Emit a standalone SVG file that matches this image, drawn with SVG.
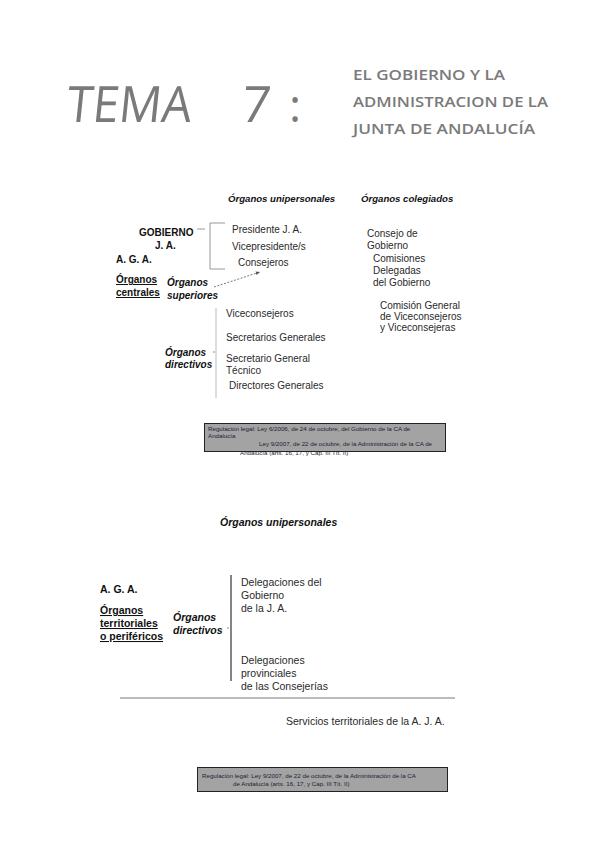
<svg xmlns="http://www.w3.org/2000/svg" width="599" height="848" viewBox="0 0 599 848">
<defs>
<style>
.t{font-family:"Liberation Sans",Arial,sans-serif;font-size:10px;fill:#2a2a2a}
.b{font-weight:bold;fill:#111}
.bi{font-weight:bold;font-style:italic;fill:#111}
.h{font-size:9.6px}
.u{text-decoration:underline}
.lg{font-size:10.5px}
.ttl{font-family:"Open Sans","DejaVu Sans",sans-serif;font-weight:400;fill:#7a7a7a}
.sub{font-family:"Open Sans","DejaVu Sans",sans-serif;font-size:14.5px;font-weight:600;fill:#7a7a7a}
.note{font-family:"Liberation Sans",Arial,sans-serif;font-size:6.2px;fill:#223}
.box{fill:#a3a3a3;stroke:#222;stroke-width:1}
.ln{stroke:#999;stroke-width:1;fill:none}
</style>
<marker id="ah" viewBox="0 0 8 8" refX="7" refY="4" markerWidth="6" markerHeight="6" orient="auto">
<path d="M0,1 L7,4 L0,7 z" fill="#555"/>
</marker>
</defs>

<g id="title">
<text class="ttl" x="65" y="122" font-size="50" textLength="125" lengthAdjust="spacingAndGlyphs" transform="skewX(-6) translate(13,0)">TEMA</text>
<text class="ttl" x="240" y="122" font-size="50" transform="skewX(-6) translate(13,0)">7</text>
<text class="ttl" x="289" y="122" font-size="46" font-weight="600">:</text>
<text class="sub" x="353" y="80" textLength="152" lengthAdjust="spacingAndGlyphs">EL GOBIERNO Y LA</text>
<text class="sub" x="353" y="107" textLength="195" lengthAdjust="spacingAndGlyphs">ADMINISTRACION DE LA</text>
<text class="sub" x="353" y="134" textLength="182" lengthAdjust="spacingAndGlyphs">JUNTA DE ANDALUCÍA</text>
</g>

<g id="connectors">
<path class="ln" d="M197,229 H205"/>
<path class="ln" d="M225,223 H210 V269 H225"/>
<path d="M214,287 L260,272" stroke="#555" stroke-width="0.8" stroke-dasharray="2,1.5" fill="none" marker-end="url(#ah)"/>
<path d="M216,308 V398" stroke="#bbb" stroke-width="1"/>
<path d="M213,352 H215" stroke="#888" stroke-width="1"/>
<path d="M231,575 V681" stroke="#666" stroke-width="1.6"/>
<path d="M227,628 H229" stroke="#888" stroke-width="1"/>
<path d="M120,698 H455" stroke="#777" stroke-width="1"/>
</g>

<g id="hdr-unipersonales-1"><text class="t bi h" x="228" y="202">Órganos unipersonales</text></g>
<g id="hdr-colegiados"><text class="t bi h" x="361" y="202">Órganos colegiados</text></g>

<g id="gobierno">
<text class="t b" x="139" y="236">GOBIERNO</text>
<text class="t b" x="155" y="249">J. A.</text>
</g>
<g id="aga-1"><text class="t b" x="116" y="263">A. G. A.</text></g>
<g id="centrales">
<text class="t b u" x="116" y="283">Órganos</text>
<text class="t b u" x="116" y="296">centrales</text>
</g>
<g id="superiores">
<text class="t bi" x="167" y="286">Órganos</text>
<text class="t bi" x="167" y="299">superiores</text>
</g>

<g id="presidente"><text class="t" x="232" y="233">Presidente J. A.</text></g>
<g id="vicepresidente"><text class="t" x="232" y="250">Vicepresidente/s</text></g>
<g id="consejeros"><text class="t" x="238" y="266">Consejeros</text></g>

<g id="consejo"><text class="t" x="367" y="237">Consejo de</text><text class="t" x="367" y="249">Gobierno</text></g>
<g id="comisiones"><text class="t" x="373" y="262">Comisiones</text><text class="t" x="373" y="274">Delegadas</text><text class="t" x="373" y="286">del Gobierno</text></g>
<g id="comision-general"><text class="t" x="380" y="309">Comisión General</text><text class="t" x="380" y="320">de Viceconsejeros</text><text class="t" x="380" y="331">y Viceconsejeras</text></g>

<g id="viceconsejeros"><text class="t" x="226" y="317">Viceconsejeros</text></g>
<g id="secretarios"><text class="t" x="226" y="341">Secretarios Generales</text></g>
<g id="secretario-tecnico"><text class="t" x="226" y="362">Secretario General</text><text class="t" x="226" y="374">Técnico</text></g>
<g id="directores"><text class="t" x="229" y="389">Directores Generales</text></g>
<g id="directivos-1"><text class="t bi" x="165" y="356">Órganos</text><text class="t bi" x="165" y="368">directivos</text></g>

<g id="nota-1">
<rect class="box" x="204.5" y="423.5" width="241" height="28"/>
<text class="note" x="208" y="431">Regulación legal: Ley 6/2006, de 24 de octubre, del Gobierno de la CA de</text>
<text class="note" x="208" y="438">Andalucía</text>
<text class="note" x="259" y="446">Ley 9/2007, de 22 de octubre, de la Administración de la CA de</text>
<text class="note" x="240" y="455">Andalucía (arts. 16, 17, y Cap. III Tít. II)</text>
</g>

<g id="hdr-unipersonales-2"><text class="t bi lg" x="220" y="526">Órganos unipersonales</text></g>
<g id="aga-2"><text class="t b lg" x="100" y="593">A. G. A.</text></g>
<g id="territoriales">
<text class="t b u lg" x="100" y="614">Órganos</text>
<text class="t b u lg" x="100" y="627">territoriales</text>
<text class="t b u lg" x="100" y="640">o periféricos</text>
</g>
<g id="directivos-2"><text class="t bi lg" x="173" y="621">Órganos</text><text class="t bi lg" x="173" y="634">directivos</text></g>
<g id="delegaciones-gobierno"><text class="t lg" x="241" y="586">Delegaciones del</text><text class="t lg" x="241" y="599">Gobierno</text><text class="t lg" x="241" y="612">de la J. A.</text></g>
<g id="delegaciones-provinciales"><text class="t lg" x="241" y="664">Delegaciones</text><text class="t lg" x="241" y="677">provinciales</text><text class="t lg" x="241" y="690">de las Consejerías</text></g>
<g id="servicios"><text class="t lg" x="286" y="725">Servicios territoriales de la A. J. A.</text></g>

<g id="nota-2">
<rect class="box" x="197.5" y="767.5" width="250" height="24"/>
<text class="note" x="202" y="778">Regulación legal: Ley 9/2007, de 22 de octubre, de la Administración de la CA</text>
<text class="note" x="233" y="786">de Andalucía (arts. 16, 17, y Cap. III Tít. II)</text>
</g>
</svg>
